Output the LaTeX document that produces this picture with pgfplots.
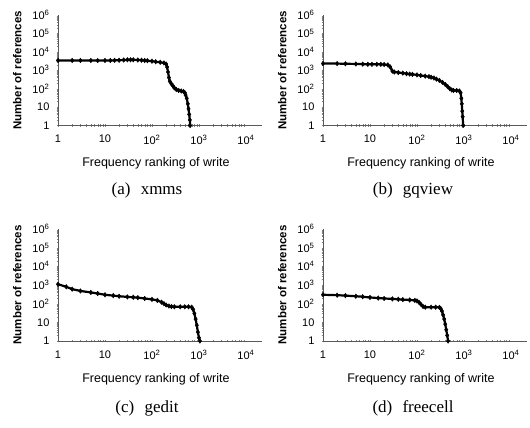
\documentclass[border=0pt]{standalone}
\usepackage{pgfplots}
\pgfplotsset{compat=1.18}
\usepackage{fontspec}
\setmainfont{Liberation Sans}
\newfontfamily\capfont{Liberation Serif}
\pgfplotstableread{
x y
1 3400
2 3400
3 3400
5 3400
7 3350
10 3400
13 3400
16 3450
20 3500
25 3600
30 3700
35 3700
40 3700
50 3600
60 3500
70 3400
80 3300
100 3100
120 2900
150 2700
180 2500
200 2200
210 1500
220 800
230 400
240 250
260 180
280 140
300 110
330 90
370 80
420 75
470 70
500 60
520 45
550 30
580 15
600 8
620 4
640 2
650 1
}\dataA
\pgfplotstableread{
x y
1 2300
2 2300
3 2250
5 2200
7 2150
9 2100
11 2100
14 2100
17 2100
20 2050
24 1950
27 1500
30 900
33 800
40 750
50 700
60 650
70 620
80 600
100 560
120 520
150 480
180 450
200 420
230 380
260 330
300 280
350 220
400 170
450 130
500 100
550 85
600 80
700 80
800 75
850 60
880 30
900 15
920 6
940 3
960 1
}\dataB
\pgfplotstableread{
x y
1 1100
1.5 800
2 600
3 480
5 400
7 350
10 300
15 270
20 250
30 230
40 220
50 210
70 190
100 170
130 150
160 120
180 100
200 85
230 75
260 70
300 68
400 68
500 68
600 68
700 65
750 50
800 30
850 15
900 7
950 3
1000 1.5
1050 1
}\dataC
\pgfplotstableread{
x y
1 300
2 285
3 270
5 250
7 235
10 215
15 200
20 190
30 180
40 172
50 165
70 158
90 150
100 140
110 120
120 95
135 70
150 65
200 65
250 65
300 63
320 55
340 40
360 25
380 15
400 8
420 4
440 2
460 1
}\dataD
\pgfplotsset{
  /pgfplots/mypanel/.style={
    scale only axis,
    width=204pt,
    xmin=1, xmax=22000, ymin=1, ymax=1e6,
    axis lines=left,
    axis line style={-, line width=0.7pt, black!65},
    major tick length=0pt,
    xtick={1,10,100,1000,10000},
    xticklabels={1,10,10\textsuperscript{2},10\textsuperscript{3},10\textsuperscript{4}},
    ytick={1,10,100,1000,10000,100000,1000000},
    yticklabels={1,10,10\textsuperscript{2},10\textsuperscript{3},10\textsuperscript{4},10\textsuperscript{5},10\textsuperscript{6}},
    minor xtick={}, minor ytick={},
    ticklabel style={font=\fontsize{11}{12}\selectfont},
    xticklabel style={yshift=-6pt},
    yticklabel style={xshift=-5pt},
    xlabel={Frequency ranking of write},
    ylabel={Number of references},
    xlabel style={at={(axis description cs:0.48,-0.34)},anchor=center,font=\fontsize{12.5}{14}\selectfont},
    ylabel style={at={(axis description cs:-0.2,0.5)},anchor=center, font=\bfseries\fontsize{11.5}{13}\selectfont},
  },
  /pgfplots/mycurve/.style={black, line width=2.2pt, mark=diamond*, mark size=2.3pt, mark options={solid, line width=0.4pt}},
}
\begin{document}
\begin{tikzpicture}[x=1pt,y=1pt]
\path[use as bounding box] (0,0) rectangle (530,-428);
\begin{loglogaxis}[mypanel, height=110.5pt, at={(58pt,-125.5pt)}, anchor=south west]
\addplot[mycurve] table[x=x,y=y] {\dataA};
\end{loglogaxis}
\begin{loglogaxis}[mypanel, height=110.5pt, at={(323pt,-125.5pt)}, anchor=south west]
\addplot[mycurve] table[x=x,y=y] {\dataB};
\end{loglogaxis}
\begin{loglogaxis}[mypanel, height=112pt, at={(58pt,-341pt)}, anchor=south west]
\addplot[mycurve] table[x=x,y=y] {\dataC};
\end{loglogaxis}
\begin{loglogaxis}[mypanel, height=112pt, at={(323pt,-341pt)}, anchor=south west]
\addplot[mycurve] table[x=x,y=y] {\dataD};
\end{loglogaxis}
\node[font=\capfont\fontsize{17}{19}\selectfont] at (147,-190) {(a)\hspace{0.6em}xmms};
\node[font=\capfont\fontsize{17}{19}\selectfont] at (413,-190) {(b)\hspace{0.6em}gqview};
\node[font=\capfont\fontsize{17}{19}\selectfont] at (147,-408) {(c)\hspace{0.6em}gedit};
\node[font=\capfont\fontsize{17}{19}\selectfont] at (413,-408) {(d)\hspace{0.6em}freecell};
\end{tikzpicture}
\end{document}
